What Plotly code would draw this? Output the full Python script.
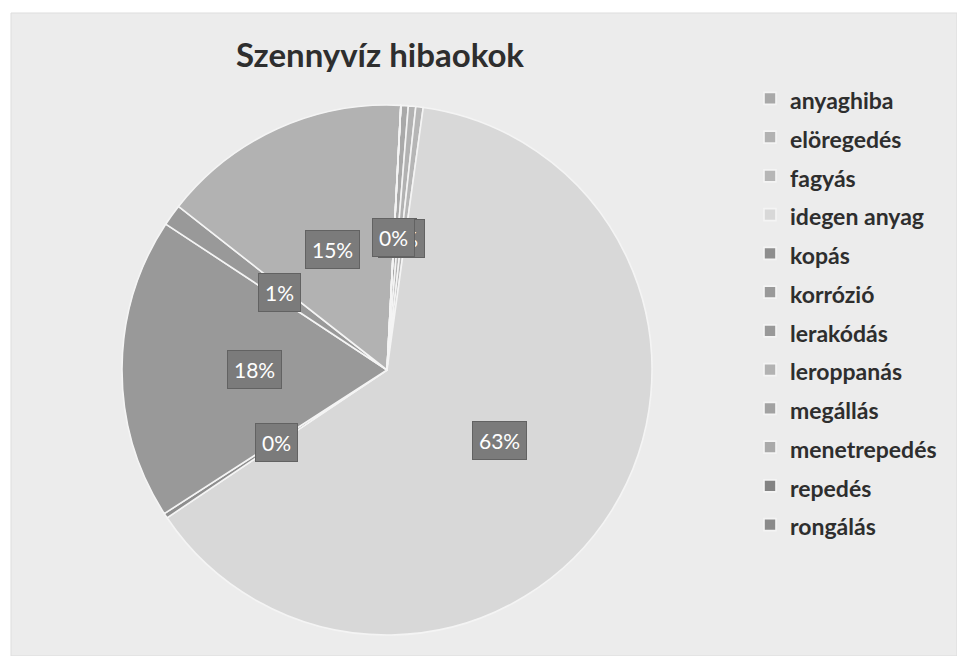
import math
import plotly.graph_objects as go

# ---- data ----
categories = ["anyaghiba", "elöregedés", "fagyás", "idegen anyag", "kopás", "korrózió",
              "lerakódás", "leroppanás", "megállás", "menetrepedés", "repedés", "rongálás"]
shares = [0.45, 0.45, 0.45, 63.4, 0.3, 18.4, 1.3, 15.25, 0, 0, 0, 0]
colors = ["#a9a9a9", "#b2b2b2", "#b6b6b6", "#d8d8d8", "#8e8e8e", "#999999",
          "#999999", "#b2b2b2", "#a2a2a2", "#aaaaaa", "#838383", "#8a8a8a"]
title_text = "Szennyvíz hibaokok"

# ---- layout geometry ----
W, H = 957, 656
CX, CY, R = 387, 370, 265          # pie centre / radius in pixels
ROT = 3                            # first slice angle (deg, clockwise from 12 o'clock)

dom_x = [(CX - R) / W, (CX + R) / W]
dom_y = [(H - CY - R) / H, (H - CY + R) / H]

legend_labels = [f"<span style='font-size:23px'>{c}</span>" for c in categories]

fig = go.Figure(go.Pie(
    labels=legend_labels,
    values=shares,
    sort=False,
    direction="clockwise",
    rotation=ROT,
    marker=dict(colors=colors, line=dict(color="#f4f4f4", width=1.6)),
    textinfo="none",
    hoverinfo="label+percent",
    domain=dict(x=dom_x, y=dom_y),
))

# data-label boxes, placed at half radius along each slice's mid angle
total = sum(shares)
annotations = []
cum = 0.0
for c, v in zip(categories, shares):
    mid = math.radians(ROT + 360.0 * (cum + v / 2) / total)
    cum += v
    px = CX + 0.5 * R * math.sin(mid)
    py = CY - 0.5 * R * math.cos(mid)
    annotations.append(dict(
        x=px / W, y=1 - py / H, xref="paper", yref="paper",
        text=f"{round(v / total * 100)}%", showarrow=False,
        font=dict(family="Lato, sans-serif", size=21, color="#ffffff"),
        bgcolor="#7b7b7b", bordercolor="#626262", borderwidth=1, borderpad=6,
        xanchor="center", yanchor="middle",
    ))

fig.update_layout(
    width=W, height=H,
    margin=dict(l=0, r=0, t=0, b=0),
    paper_bgcolor="#ffffff",
    shapes=[dict(type="rect", xref="paper", yref="paper",
                 x0=11 / W, x1=1, y0=0, y1=1 - 13 / H,
                 fillcolor="#ececec", line=dict(color="#dddddd", width=1), layer="below")],
    title=dict(text=f"<b>{title_text}</b>", x=380 / W, xanchor="center",
               y=1 - 55 / H, yanchor="middle",
               font=dict(family="Lato, sans-serif", size=33, color="#2e2e2e")),
    legend=dict(x=750 / W, xanchor="left", y=1 - 74 / H, yanchor="top",
                font=dict(family="Lato, sans-serif", size=27.5, color="#2e2e2e", weight="bold"),
                bgcolor="rgba(0,0,0,0)", itemwidth=30),
    annotations=annotations,
)

fig.write_html("out.html", config={"displayModeBar": False},
               post_script="document.body.style.margin='0';")
